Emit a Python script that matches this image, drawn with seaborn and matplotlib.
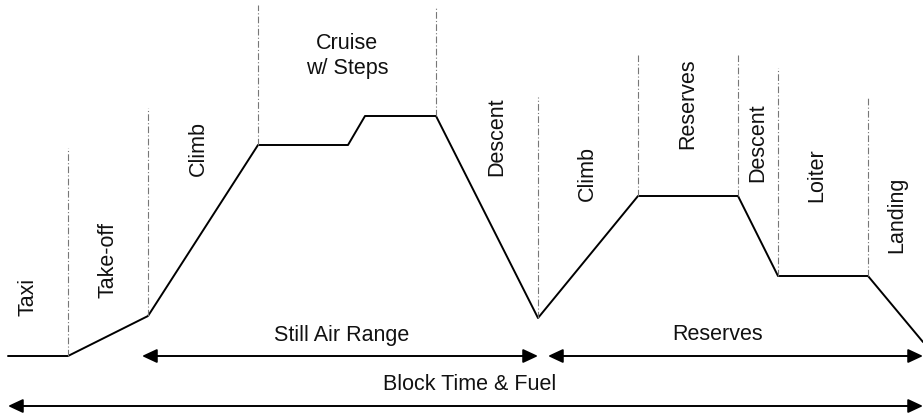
import matplotlib
matplotlib.use("Agg")
import matplotlib.pyplot as plt
import seaborn as sns
import pandas as pd

# Mission profile (distance along mission, altitude) in diagram units
profile_x = [8, 68, 148, 258, 348, 365, 436, 538, 638, 738, 778, 868, 923]
profile_alt = [61, 61, 101, 272, 272, 301, 301, 99, 221, 221, 141, 141, 75]

# Phase boundary marker lines
boundary_x = [68, 148, 258, 436, 538, 638, 738, 778, 868]
boundary_top = [269, 309, 412, 409, 320, 362, 362, 349, 320]
boundary_bottom = [61, 101, 272, 301, 99, 221, 221, 141, 141]

# Phase labels (rotated)
phase_labels = ["Taxi", "Take-off", "Climb", "Descent", "Climb", "Reserves", "Descent", "Loiter", "Landing"]
phase_label_x = [28, 108, 198, 497, 587, 688, 758, 817, 897]
phase_label_y = [120, 157, 269, 280, 244, 313, 274, 242, 202]

cruise_label = "Cruise\nw/ Steps"
cruise_x, cruise_y = 347, 361

# Range arrows
arrow_names = ["Still Air Range", "Reserves", "Block Time & Fuel"]
arrow_start = [142, 548, 8]
arrow_end = [538, 923, 923]
arrow_alt = [61, 61, 11]
arrow_text_x = [342, 718, 470]
arrow_text_y = [81, 82, 32]

sns.set_style("white")
plt.rcParams["font.family"] = ["Liberation Sans", "DejaVu Sans"]

fig = plt.figure(figsize=(9.23, 4.17), dpi=100)
ax = fig.add_axes([0, 0, 1, 1])
ax.set_xlim(0, 923)
ax.set_ylim(0, 417)
ax.axis("off")

df = pd.DataFrame({"x": profile_x, "alt": profile_alt})
sns.lineplot(data=df, x="x", y="alt", sort=False, color="black", lw=1.4, ax=ax)

for bx, bt, bb in zip(boundary_x, boundary_top, boundary_bottom):
    ax.plot([bx, bx], [bb, bt], color="#777777", lw=0.8, ls=(0, (6, 2, 1, 2)))

fs = 15.5
for lab, lx, ly in zip(phase_labels, phase_label_x, phase_label_y):
    ax.text(lx, ly, lab, rotation=90, ha="center", va="center", fontsize=fs, color="#111111")

ax.text(cruise_x, cruise_y, cruise_label, ha="center", va="center", fontsize=fs,
        color="#111111", linespacing=1.3)

for name, s, e, a, tx, ty in zip(arrow_names, arrow_start, arrow_end, arrow_alt, arrow_text_x, arrow_text_y):
    ax.annotate("", xy=(s, a), xytext=(e, a),
                arrowprops=dict(arrowstyle="<|-|>,head_length=0.9,head_width=0.42",
                                color="black", lw=1.4, shrinkA=0, shrinkB=0))
    ax.text(tx, ty, name, ha="center", va="center", fontsize=fs, color="#111111")

fig.savefig("out.png", dpi=100)
